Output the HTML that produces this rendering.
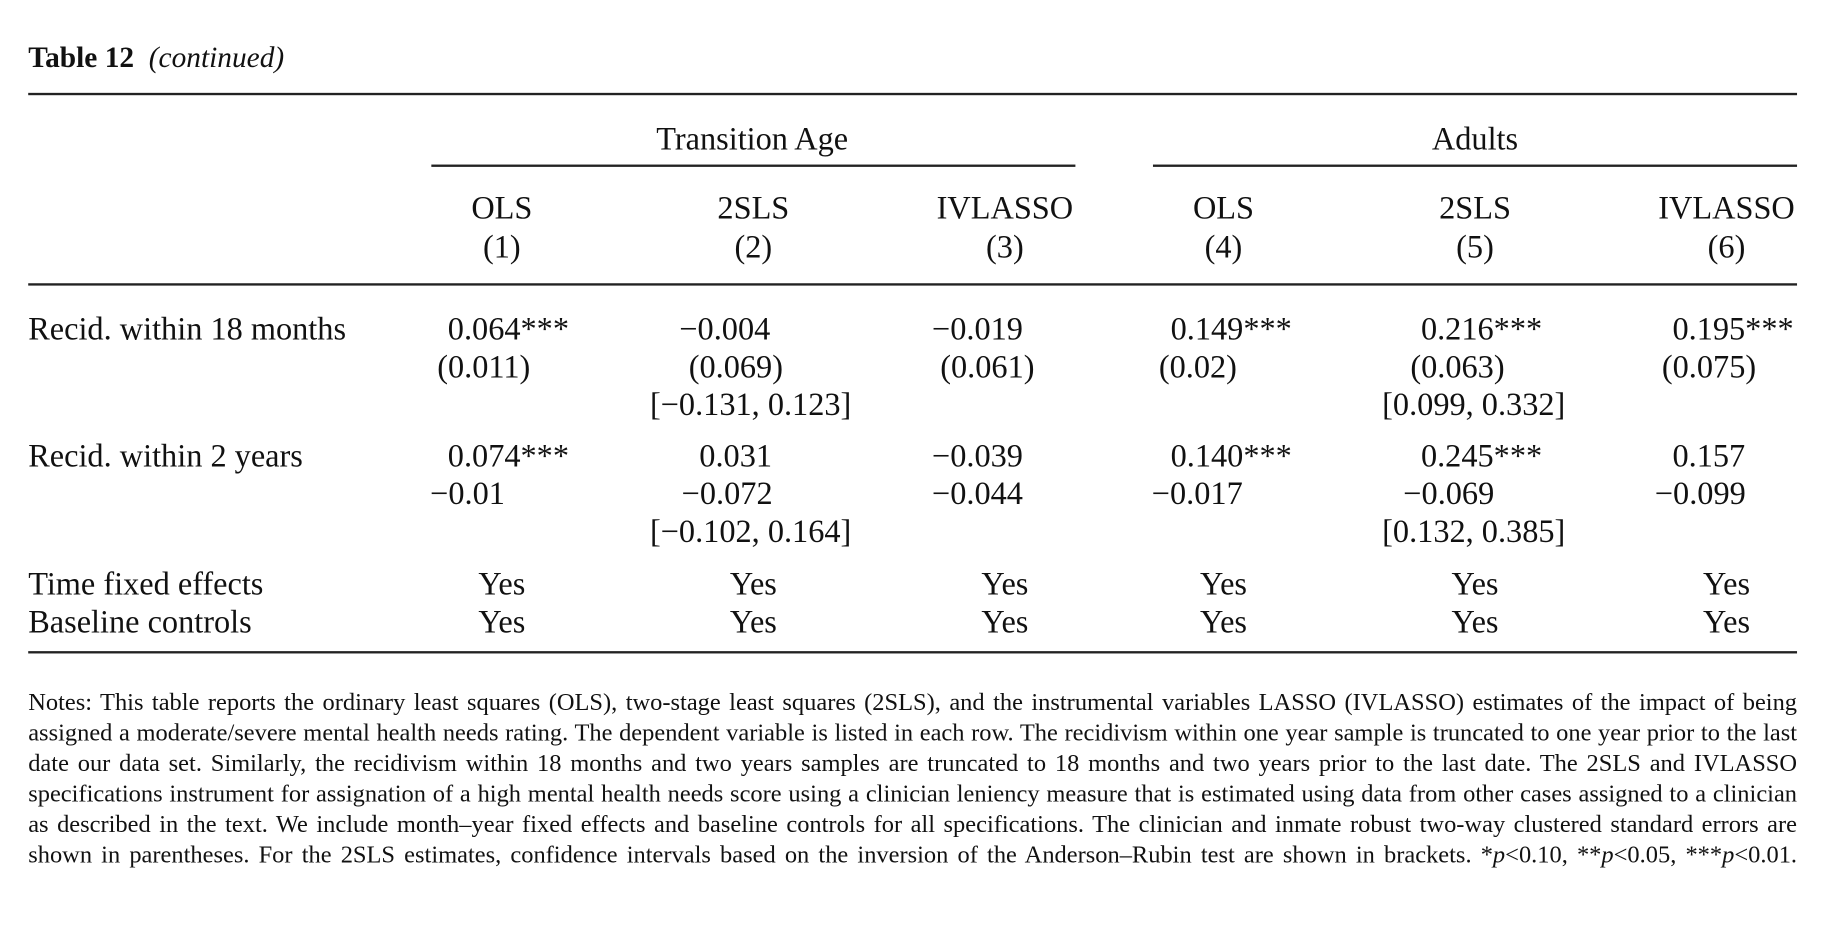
<!DOCTYPE html>
<html><head><meta charset="utf-8"><style>
html,body{margin:0;padding:0;background:#fff;}
body{width:1842px;height:934px;overflow:hidden;}
#w{position:absolute;left:0;top:0;width:1570px;height:800px;transform:scale(1.1753);transform-origin:0 0;font-family:"Liberation Serif",serif;color:#111;}
.t{position:absolute;font-size:27.5px;line-height:30px;white-space:nowrap;}
.c{position:absolute;font-size:27.5px;line-height:30px;white-space:nowrap;width:200px;text-align:center;}
.r{position:absolute;height:2px;background:#222;}
.n{position:absolute;left:24px;width:1505px;font-size:20.8px;line-height:26px;text-align:justify;text-align-last:justify;white-space:nowrap;}
</style></head><body><div id="w">
<div class="t" style="left:24px;top:35px;font-size:25px"><b>Table 12</b>&nbsp; <i>(continued)</i></div>
<div class="r" style="left:24px;width:1505px;top:79px"></div>
<div class="c" style="left:540px;top:103px">Transition Age</div>
<div class="c" style="left:1155px;top:103px">Adults</div>
<div class="r" style="left:367px;width:548px;top:140px;height:1.5px"></div>
<div class="r" style="left:981px;width:548px;top:140px;height:1.5px"></div>
<div class="c" style="left:327px;top:162px">OLS</div><div class="c" style="left:327px;top:195px">(1)</div>
<div class="c" style="left:541px;top:162px">2SLS</div><div class="c" style="left:541px;top:195px">(2)</div>
<div class="c" style="left:755px;top:162px">IVLASSO</div><div class="c" style="left:755px;top:195px">(3)</div>
<div class="c" style="left:941px;top:162px">OLS</div><div class="c" style="left:941px;top:195px">(4)</div>
<div class="c" style="left:1155px;top:162px">2SLS</div><div class="c" style="left:1155px;top:195px">(5)</div>
<div class="c" style="left:1369px;top:162px">IVLASSO</div><div class="c" style="left:1369px;top:195px">(6)</div>
<div class="r" style="left:24px;width:1505px;top:241px;height:1.5px"></div>

<div class="t" style="left:24px;top:265px">Recid. within 18 months</div>
<div class="t" style="left:381px;top:265px">0.064***</div>
<div class="t" style="left:578px;top:265px">−0.004</div>
<div class="t" style="left:793px;top:265px">−0.019</div>
<div class="t" style="left:996px;top:265px">0.149***</div>
<div class="t" style="left:1209px;top:265px">0.216***</div>
<div class="t" style="left:1423px;top:265px">0.195***</div>
<div class="t" style="left:372px;top:297px">(0.011)</div>
<div class="t" style="left:586px;top:297px">(0.069)</div>
<div class="t" style="left:800px;top:297px">(0.061)</div>
<div class="t" style="left:986px;top:297px">(0.02)</div>
<div class="t" style="left:1200px;top:297px">(0.063)</div>
<div class="t" style="left:1414px;top:297px">(0.075)</div>
<div class="t" style="left:553px;top:329px">[−0.131, 0.123]</div>
<div class="t" style="left:1176px;top:329px">[0.099, 0.332]</div>

<div class="t" style="left:24px;top:373px">Recid. within 2 years</div>
<div class="t" style="left:381px;top:373px">0.074***</div>
<div class="t" style="left:595px;top:373px">0.031</div>
<div class="t" style="left:793px;top:373px">−0.039</div>
<div class="t" style="left:996px;top:373px">0.140***</div>
<div class="t" style="left:1209px;top:373px">0.245***</div>
<div class="t" style="left:1423px;top:373px">0.157</div>
<div class="t" style="left:366px;top:405px">−0.01</div>
<div class="t" style="left:580px;top:405px">−0.072</div>
<div class="t" style="left:793px;top:405px">−0.044</div>
<div class="t" style="left:980px;top:405px">−0.017</div>
<div class="t" style="left:1194px;top:405px">−0.069</div>
<div class="t" style="left:1408px;top:405px">−0.099</div>
<div class="t" style="left:553px;top:437px">[−0.102, 0.164]</div>
<div class="t" style="left:1176px;top:437px">[0.132, 0.385]</div>

<div class="t" style="left:24px;top:482px">Time fixed effects</div>
<div class="t" style="left:24px;top:514px">Baseline controls</div>
<div class="c" style="left:327px;top:482px">Yes</div><div class="c" style="left:327px;top:514px">Yes</div>
<div class="c" style="left:541px;top:482px">Yes</div><div class="c" style="left:541px;top:514px">Yes</div>
<div class="c" style="left:755px;top:482px">Yes</div><div class="c" style="left:755px;top:514px">Yes</div>
<div class="c" style="left:941px;top:482px">Yes</div><div class="c" style="left:941px;top:514px">Yes</div>
<div class="c" style="left:1155px;top:482px">Yes</div><div class="c" style="left:1155px;top:514px">Yes</div>
<div class="c" style="left:1369px;top:482px">Yes</div><div class="c" style="left:1369px;top:514px">Yes</div>
<div class="r" style="left:24px;width:1505px;top:554px;height:1.5px"></div>

<div class="n" style="top:585px">Notes: This table reports the ordinary least squares (OLS), two-stage least squares (2SLS), and the instrumental variables LASSO (IVLASSO) estimates of the impact of being</div>
<div class="n" style="top:611px">assigned a moderate/severe mental health needs rating. The dependent variable is listed in each row. The recidivism within one year sample is truncated to one year prior to the last</div>
<div class="n" style="top:637px">date our data set. Similarly, the recidivism within 18 months and two years samples are truncated to 18 months and two years prior to the last date. The 2SLS and IVLASSO</div>
<div class="n" style="top:663px">specifications instrument for assignation of a high mental health needs score using a clinician leniency measure that is estimated using data from other cases assigned to a clinician</div>
<div class="n" style="top:689px">as described in the text. We include month–year fixed effects and baseline controls for all specifications. The clinician and inmate robust two-way clustered standard errors are</div>
<div class="n" style="top:715px">shown in parentheses. For the 2SLS estimates, confidence intervals based on the inversion of the Anderson–Rubin test are shown in brackets. *<i>p</i>&lt;0.10, **<i>p</i>&lt;0.05, ***<i>p</i>&lt;0.01.</div>
</div></body></html>
